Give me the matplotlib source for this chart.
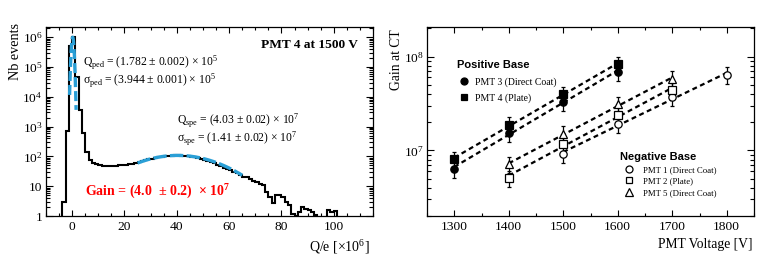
import numpy as np
import matplotlib
matplotlib.use("Agg")
import matplotlib.pyplot as plt
from matplotlib.ticker import FixedLocator, MultipleLocator, LogLocator, NullFormatter, FixedFormatter

plt.rcParams['font.family'] = ['Liberation Serif', 'DejaVu Serif']
plt.rcParams['mathtext.fontset'] = 'custom'
plt.rcParams['mathtext.rm'] = 'Liberation Serif'
plt.rcParams['mathtext.it'] = 'Liberation Serif:italic'
plt.rcParams['mathtext.bf'] = 'Liberation Serif:bold'

# ---------------- data: left panel (charge histogram) ----------------
hist_lo, hist_hi, hist_nbins = -10.0, 115.0, 100
hist_counts = [
    0, 0, 0, 0, 0, 3, 700, 5.0e5, 1.05e6, 4.7e4,          # -10 .. 2.5
    3.6e3, 600, 140, 75, 60, 55, 52, 49, 48, 47,          # 2.5 .. 15
    48, 49, 50, 52, 53, 55, 57, 62, 65, 70,               # 15 .. 27.5
    75, 80, 85, 90, 95, 99, 102, 105, 107, 108,           # 27.5 .. 40
    108, 107, 105, 102, 98, 93, 88, 82, 76, 70,           # 40 .. 52.5
    64, 58, 52, 47, 42, 38, 34, 30, 27, 24,               # 52.5 .. 65
    21, 20, 17, 15, 14, 12, 10.8, 6.5, 4.4, 2.7,          # 65 .. 77.5
    5.2, 4.9, 4.4, 3.0, 2.3, 1.2, 1.0, 1.4, 2.0, 1.7,     # 77.5 .. 90
    1.6, 1.4, 1.1, 0, 0, 0, 1.6, 1.4, 1.5, 0,             # 90 .. 102.5
    0, 0, 0, 0, 0, 0, 0, 0, 0, 0,                         # 102.5 .. 115
]
# fit results (Gaussian pedestal and single photo-electron peak), in 1e6 e
ped_amp, ped_mean, ped_sigma, ped_range = 1.0e6, 0.1782, 0.3944, (-1.0, 1.5)
spe_amp, spe_mean, spe_sigma, spe_range = 108.0, 40.3, 14.1, (25.0, 65.0)

left_yticks = [1, 10, 1e2, 1e3, 1e4, 1e5, 1e6]
left_yticklabels = ['1', '10', '$10^{2}$', '$10^{3}$', '$10^{4}$', '$10^{5}$', '$10^{6}$']
left_xticks = [0, 20, 40, 60, 80, 100]

# ---------------- data: right panel (gain vs voltage) ----------------
pmt3_v = [1300, 1400, 1500, 1600]
pmt3_g = [6.4e6, 1.55e7, 3.3e7, 6.9e7]
pmt3_e = [1.3e6, 3.1e6, 6.6e6, 1.4e7]
pmt4_v = [1300, 1400, 1500, 1600]
pmt4_g = [8.1e6, 1.88e7, 4.0e7, 8.3e7]
pmt4_e = [1.6e6, 3.8e6, 8.0e6, 1.7e7]
pmt1_v = [1500, 1600, 1700, 1800]
pmt1_g = [9.2e6, 1.92e7, 3.7e7, 6.4e7]
pmt1_e = [1.8e6, 3.8e6, 7.4e6, 1.3e7]
pmt2_v = [1400, 1500, 1600, 1700]
pmt2_g = [5.1e6, 1.17e7, 2.4e7, 4.4e7]
pmt2_e = [1.0e6, 2.3e6, 4.8e6, 8.8e6]
pmt5_v = [1400, 1500, 1600, 1700]
pmt5_g = [7.1e6, 1.5e7, 3.1e7, 5.8e7]
pmt5_e = [1.4e6, 3.0e6, 6.2e6, 1.2e7]
right_yticks = [1e7, 1e8]
right_yticklabels = ['$10^{7}$', '$10^{8}$']
right_xticks = [1300, 1400, 1500, 1600, 1700, 1800]

# ---------------- figure ----------------
fig = plt.figure(figsize=(7.62, 2.60), dpi=100)
axL = fig.add_axes([0.0604, 0.1692, 0.4291, 0.727])
axR = fig.add_axes([0.5604, 0.1692, 0.4291, 0.727])

TS = 9.7
for ax in (axL, axR):
    for s in ax.spines.values():
        s.set_linewidth(0.9)
    ax.tick_params(which='both', direction='in', top=True, right=True, width=0.8,
                   labelsize=TS)

# ---- left ----
edges = np.linspace(hist_lo, hist_hi, hist_nbins + 1)
counts = np.array(hist_counts, dtype=float)
draw_counts = np.where(counts > 0, counts, 1e-3)
axL.stairs(draw_counts, edges, baseline=None, color='black', lw=1.5)

xp = np.linspace(*ped_range, 200)
axL.plot(xp, ped_amp * np.exp(-0.5 * ((xp - ped_mean) / ped_sigma) ** 2),
         color='#2a9fd6', lw=2.4, dashes=(3, 1.2))
xs = np.linspace(*spe_range, 200)
axL.plot(xs, spe_amp * np.exp(-0.5 * ((xs - spe_mean) / spe_sigma) ** 2),
         color='#2a9fd6', lw=2.4, dashes=(4, 1.0))

axL.set_yscale('log')
axL.set_xlim(hist_lo, hist_hi)
axL.set_ylim(1, 2.2e6)
axL.yaxis.set_major_locator(FixedLocator(left_yticks))
axL.yaxis.set_major_formatter(FixedFormatter(left_yticklabels))
axL.yaxis.set_minor_locator(LogLocator(base=10, subs=np.arange(2, 10)))
axL.yaxis.set_minor_formatter(NullFormatter())
axL.xaxis.set_major_locator(FixedLocator(left_xticks))
axL.xaxis.set_minor_locator(MultipleLocator(5))
axL.tick_params(axis='x', which='major', length=4.5, pad=3.5)
axL.tick_params(axis='x', which='minor', length=2.3)
axL.tick_params(axis='y', which='major', length=5, pad=2.5)
axL.tick_params(axis='y', which='minor', length=2.7)

axL.set_ylabel('Nb events', fontsize=10.2, loc='top')
axL.yaxis.set_label_coords(-0.072, 1.02)
axL.set_xlabel('Q/e [×10$^{6}$]', fontsize=10, loc='right')
axL.xaxis.set_label_coords(0.99, -0.115)

axL.text(0.955, 0.905, 'PMT 4 at 1500 V', transform=axL.transAxes, ha='right', va='center',
         fontsize=9.6, fontweight='bold')
axL.text(0.113, 0.812, 'Q$_{\\mathrm{ped}}$ = (1.782 ± 0.002) × 10$^{5}$', transform=axL.transAxes,
         ha='left', va='center', fontsize=8.4)
axL.text(0.113, 0.714, 'σ$_{\\mathrm{ped}}$ = (3.944 ± 0.001) × 10$^{5}$', transform=axL.transAxes,
         ha='left', va='center', fontsize=8.4)
axL.text(0.400, 0.502, 'Q$_{\\mathrm{spe}}$ = (4.03 ± 0.02) × 10$^{7}$', transform=axL.transAxes,
         ha='left', va='center', fontsize=8.4)
axL.text(0.400, 0.409, 'σ$_{\\mathrm{spe}}$ = (1.41 ± 0.02) × 10$^{7}$', transform=axL.transAxes,
         ha='left', va='center', fontsize=8.4)
axL.text(0.119, 0.127, 'Gain = (4.0  ± 0.2)  × 10$^{\\mathbf{7}}$', transform=axL.transAxes,
         ha='left', va='center', fontsize=10, fontweight='bold', color='#ff0000')

# ---- right ----
ms = 5.3
series = [
    (pmt3_v, pmt3_g, pmt3_e, 'o', True, 'PMT 3 (Direct Coat)'),
    (pmt4_v, pmt4_g, pmt4_e, 's', True, 'PMT 4 (Plate)'),
    (pmt1_v, pmt1_g, pmt1_e, 'o', False, 'PMT 1 (Direct Coat)'),
    (pmt2_v, pmt2_g, pmt2_e, 's', False, 'PMT 2 (Plate)'),
    (pmt5_v, pmt5_g, pmt5_e, '^', False, 'PMT 5 (Direct Coat)'),
]
handles = []
for v, g, e, mk, filled, lab in series:
    v = np.array(v, float); g = np.array(g, float)
    coef = np.polyfit(v, np.log(g), 1)
    vv = np.linspace(v.min(), v.max(), 50)
    axR.plot(vv, np.exp(np.polyval(coef, vv)), color='black', lw=1.6, dashes=(2.2, 1.6), zorder=2)
    axR.errorbar(v, g, yerr=e, fmt='none', ecolor='black', elinewidth=0.9, capsize=1.6,
                 capthick=0.9, zorder=3)
    h, = axR.plot(v, g, ls='none', marker=mk, ms=ms if mk != '^' else ms + 0.6,
                  mfc='black' if filled else 'white', mec='black', mew=0.9, zorder=4, label=lab)
    handles.append(h)

axR.set_yscale('log')
axR.set_xlim(1250, 1850)
axR.set_ylim(2.0e6, 2.07e8)
axR.yaxis.set_major_locator(FixedLocator(right_yticks))
axR.yaxis.set_major_formatter(FixedFormatter(right_yticklabels))
axR.yaxis.set_minor_locator(LogLocator(base=10, subs=np.arange(2, 10)))
axR.yaxis.set_minor_formatter(NullFormatter())
axR.xaxis.set_major_locator(FixedLocator(right_xticks))
axR.xaxis.set_minor_locator(MultipleLocator(50))
axR.tick_params(axis='x', which='major', length=4.5, pad=3.5)
axR.tick_params(axis='x', which='minor', length=2.3)
axR.tick_params(axis='y', which='major', length=5, pad=2.5)
axR.tick_params(axis='y', which='minor', length=2.7)

axR.set_ylabel('Gain at CT', fontsize=9.8, loc='top')
axR.yaxis.set_label_coords(-0.075, 0.985)
axR.set_xlabel('PMT Voltage [V]', fontsize=9.8, loc='right')
axR.xaxis.set_label_coords(0.996, -0.115)

title_font = {'family': 'Liberation Sans', 'weight': 'bold', 'size': 8}
leg1 = axR.legend(handles=handles[:2], title='Positive Base', title_fontproperties=title_font,
                  loc='upper left', bbox_to_anchor=(0.091, 0.823), frameon=False,
                  fontsize=7.0, borderpad=0, borderaxespad=0, handlelength=1.45,
                  handletextpad=0.4, labelspacing=0.68, alignment='left', markerscale=0.95)
axR.add_artist(leg1)
leg2 = axR.legend(handles=handles[2:], title='Negative Base', title_fontproperties=title_font,
                  loc='upper left', bbox_to_anchor=(0.589, 0.337), frameon=False,
                  fontsize=6.3, borderpad=0, borderaxespad=0, handlelength=2.1,
                  handletextpad=0.6, labelspacing=0.4, alignment='left', markerscale=0.95)

fig.savefig('out.png', dpi=100)
